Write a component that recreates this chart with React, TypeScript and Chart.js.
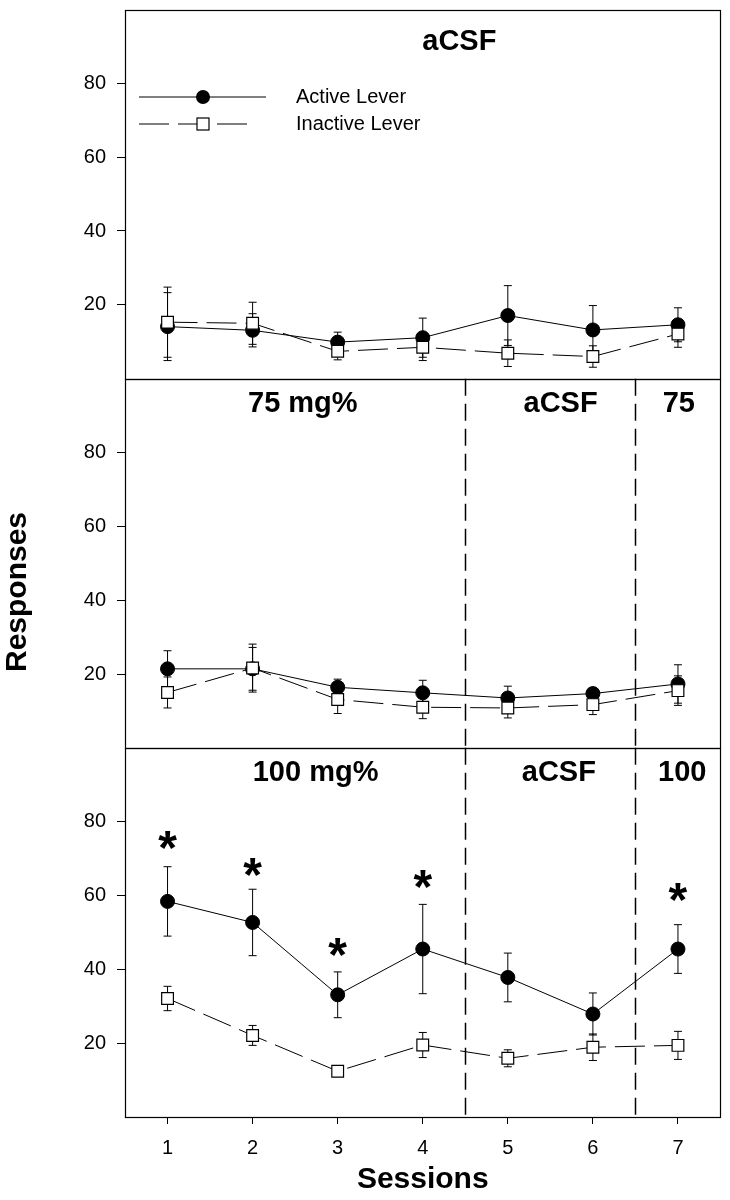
import React, { useEffect, useRef } from 'react';
import { Chart, registerables } from 'chart.js';

Chart.register(...registerables);

// ---------- data ----------
const sessions = [1, 2, 3, 4, 5, 6, 7];
const yTickValues = [20, 40, 60, 80];

// Panel 1: aCSF
const p1Active = [14.1, 13.1, 9.9, 11.1, 17.1, 13.2, 14.6];
const p1ActiveErr = [9.2, 4.5, 2.7, 5.3, 8.1, 6.6, 4.6];
const p1Inactive = [15.3, 15.0, 7.4, 8.5, 6.9, 6.0, 12.1];
const p1InactiveErr = [9.5, 5.7, 2.3, 3.6, 3.6, 2.9, 3.6];

// Panel 2: 75 mg%
const p2Active = [21.4, 21.4, 16.4, 14.9, 13.5, 14.7, 17.3];
const p2ActiveErr = [4.9, 5.8, 2.2, 3.4, 3.2, 1.5, 5.2];
const p2Inactive = [15.0, 21.6, 13.1, 11.0, 10.8, 11.7, 15.5];
const p2InactiveErr = [4.2, 6.5, 3.8, 3.1, 2.7, 2.7, 4.0];

// Panel 3: 100 mg%
const p3Active = [58.4, 52.7, 33.1, 45.5, 37.8, 27.9, 45.5];
const p3ActiveErr = [9.4, 9.0, 6.2, 12.1, 6.6, 5.7, 6.6];
const p3Inactive = [32.1, 22.1, 12.4, 19.5, 15.9, 18.9, 19.4];
const p3InactiveErr = [3.3, 2.7, 0.8, 3.4, 2.3, 3.6, 3.8];

// significance markers (panel 3)
const starSessions = [1, 2, 3, 4, 7];
const starValues = [74.9, 67.8, 46.0, 64.5, 60.9];

// phase boundaries (panels 2 and 3)
const phaseBoundaries = [4.5, 6.5];

const seriesNames = ['Active Lever', 'Inactive Lever'];
const axisTitleX = 'Sessions';
const axisTitleY = 'Responses';

// ---------- styling / layout ----------
const FONT = "'Liberation Sans', Arial, Helvetica, sans-serif";
const DASH = [30, 9];

const panelTexts: { cy: number; items: { text: string; x: number }[] }[] = [
  { cy: 42, items: [{ text: 'aCSF', x: 4.43 }] },
  { cy: 404, items: [{ text: '75 mg%', x: 2.59 }, { text: 'aCSF', x: 5.62 }, { text: '75', x: 7.01 }] },
  { cy: 773, items: [{ text: '100 mg%', x: 2.74 }, { text: 'aCSF', x: 5.6 }, { text: '100', x: 7.05 }] },
];

const toPts = (vals: number[]) => vals.map((v, i) => ({ x: sessions[i], y: v }));

const activeStyle = {
  borderColor: '#000',
  backgroundColor: '#000',
  borderWidth: 1,
  pointStyle: 'circle',
  pointRadius: 7,
  pointBackgroundColor: '#000',
  pointBorderColor: '#000',
  pointBorderWidth: 1,
  order: 2,
};
const inactiveStyle = {
  borderColor: '#000',
  backgroundColor: '#fff',
  borderWidth: 1,
  borderDash: DASH,
  pointStyle: 'rect',
  pointRadius: 8.3,
  pointBackgroundColor: '#fff',
  pointBorderColor: '#000',
  pointBorderWidth: 1.2,
  order: 1,
};

const decorPlugin = {
  id: 'decor',
  beforeDatasetsDraw(chart: any) {
    const ctx = chart.ctx;
    const ca = chart.chartArea;
    const xs = chart.scales.x;
    ctx.save();
    ctx.strokeStyle = '#000';
    ctx.lineWidth = 1.2;
    // panel frames
    ['y1', 'y2', 'y3'].forEach((id) => {
      const s = chart.scales[id];
      ctx.strokeRect(Math.round(ca.left) + 0.5, Math.round(s.top) + 0.5, Math.round(ca.right - ca.left) - 1, Math.round(s.bottom - s.top));
    });
    // phase boundary dashed lines
    ctx.setLineDash([17, 8]);
    ctx.lineWidth = 1.5;
    ['y2', 'y3'].forEach((id) => {
      const s = chart.scales[id];
      phaseBoundaries.forEach((b) => {
        const px = Math.round(xs.getPixelForValue(b)) + 0.5;
        ctx.beginPath();
        ctx.moveTo(px, s.top);
        ctx.lineTo(px, s.bottom);
        ctx.stroke();
      });
    });
    ctx.setLineDash([]);
    // error bars
    ctx.lineWidth = 1;
    chart.data.datasets.forEach((ds: any) => {
      const ys = chart.scales[ds.yAxisID];
      ds.data.forEach((pt: any, j: number) => {
        const e = ds.errors[j];
        const px = xs.getPixelForValue(pt.x);
        const yt = ys.getPixelForValue(pt.y + e);
        const yb = ys.getPixelForValue(pt.y - e);
        ctx.beginPath();
        ctx.moveTo(px, yt);
        ctx.lineTo(px, yb);
        ctx.moveTo(px - 4, yt);
        ctx.lineTo(px + 4, yt);
        ctx.moveTo(px - 4, yb);
        ctx.lineTo(px + 4, yb);
        ctx.stroke();
      });
    });
    ctx.restore();
  },
  afterDatasetsDraw(chart: any) {
    const ctx = chart.ctx;
    const ca = chart.chartArea;
    const xs = chart.scales.x;
    ctx.save();
    ctx.fillStyle = '#000';
    ctx.strokeStyle = '#000';

    // panel condition labels
    ctx.font = `bold 29px ${FONT}`;
    ctx.textAlign = 'center';
    ctx.textBaseline = 'middle';
    panelTexts.forEach((p) => {
      p.items.forEach((it) => {
        ctx.fillText(it.text, xs.getPixelForValue(it.x), p.cy);
      });
    });

    // asterisks
    const y3 = chart.scales.y3;
    ctx.font = `bold 48px ${FONT}`;
    ctx.textBaseline = 'alphabetic';
    const m = ctx.measureText('*');
    const asc = m.actualBoundingBoxAscent;
    const desc = m.actualBoundingBoxDescent;
    starSessions.forEach((s, i) => {
      const cy = y3.getPixelForValue(starValues[i]);
      const base = cy - (desc - asc) / 2;
      ctx.fillText('*', xs.getPixelForValue(s), base);
    });

    // legend
    const l = ca.left;
    const rows = [97, 124];
    ctx.lineWidth = 1;
    ctx.beginPath();
    ctx.moveTo(l + 14, rows[0]);
    ctx.lineTo(l + 141, rows[0]);
    ctx.stroke();
    ctx.beginPath();
    ctx.arc(l + 78, rows[0], 7, 0, Math.PI * 2);
    ctx.fill();
    ctx.setLineDash(DASH);
    ctx.beginPath();
    ctx.moveTo(l + 14, rows[1]);
    ctx.lineTo(l + 130, rows[1]);
    ctx.stroke();
    ctx.setLineDash([]);
    ctx.fillStyle = '#fff';
    ctx.lineWidth = 1.2;
    ctx.fillRect(l + 72, rows[1] - 6, 12, 12);
    ctx.strokeRect(l + 72, rows[1] - 6, 12, 12);
    ctx.fillStyle = '#000';
    ctx.font = `20px ${FONT}`;
    ctx.textAlign = 'left';
    ctx.textBaseline = 'middle';
    ctx.fillText(seriesNames[0], l + 171, rows[0]);
    ctx.fillText(seriesNames[1], l + 171, rows[1]);

    // axis titles
    ctx.font = `bold 30px ${FONT}`;
    ctx.textAlign = 'center';
    ctx.fillText(axisTitleX, (ca.left + ca.right) / 2, 1180);
    ctx.translate(18, 592);
    ctx.rotate(-Math.PI / 2);
    ctx.fillText(axisTitleY, 0, 0);
    ctx.restore();
  },
};

const yAxis = (weight: number) => ({
  type: 'linear',
  position: 'left',
  min: 0,
  max: 100,
  stack: 'panels',
  stackWeight: 1,
  weight,
  afterBuildTicks: (s: any) => {
    s.ticks = yTickValues.map((v) => ({ value: v }));
  },
  afterFit: (s: any) => {
    s.width = 125;
    s.paddingTop = 0;
    s.paddingBottom = 0;
  },
  border: { display: false },
  grid: { drawOnChartArea: false, drawTicks: true, tickLength: 8, color: '#000', lineWidth: 1 },
  ticks: { color: '#000', font: { family: FONT, size: 20 }, padding: 11 },
});

export default function App() {
  const ref = useRef<HTMLCanvasElement | null>(null);
  useEffect(() => {
    if (!ref.current) return;
    const mk = (vals: number[], errs: number[], axis: string, style: any, label: string) => ({
      label,
      data: toPts(vals),
      errors: errs,
      yAxisID: axis,
      xAxisID: 'x',
      showLine: true,
      fill: false,
      tension: 0,
      ...style,
    });
    const chart = new Chart(ref.current, {
      type: 'line',
      data: {
        datasets: [
          mk(p1Active, p1ActiveErr, 'y1', activeStyle, seriesNames[0]),
          mk(p1Inactive, p1InactiveErr, 'y1', inactiveStyle, seriesNames[1]),
          mk(p2Active, p2ActiveErr, 'y2', activeStyle, seriesNames[0]),
          mk(p2Inactive, p2InactiveErr, 'y2', inactiveStyle, seriesNames[1]),
          mk(p3Active, p3ActiveErr, 'y3', activeStyle, seriesNames[0]),
          mk(p3Inactive, p3InactiveErr, 'y3', inactiveStyle, seriesNames[1]),
        ] as any,
      },
      options: {
        responsive: false,
        animation: false,
        devicePixelRatio: 1,
        layout: { padding: { top: 9, right: 6, left: 0, bottom: 0 } },
        plugins: { legend: { display: false }, tooltip: { enabled: false } },
        scales: {
          x: {
            type: 'linear',
            position: 'bottom',
            min: 0.5,
            max: 7.5,
            afterBuildTicks: (s: any) => {
              s.ticks = sessions.map((v) => ({ value: v }));
            },
            afterFit: (s: any) => {
              s.height = 83;
              s.paddingLeft = 0;
              s.paddingRight = 0;
            },
            border: { display: false },
            grid: { drawOnChartArea: false, drawTicks: true, tickLength: 7, color: '#000', lineWidth: 1 },
            ticks: { color: '#000', font: { family: FONT, size: 20 }, padding: 12, maxRotation: 0, autoSkip: false },
          },
          y1: yAxis(3),
          y2: yAxis(2),
          y3: yAxis(1),
        } as any,
      },
      plugins: [decorPlugin],
    });
    return () => chart.destroy();
  }, []);
  return (
    <div style={{ position: 'absolute', left: 0, top: 0, width: 730, height: 1200, background: '#fff' }}>
      <canvas ref={ref} width={730} height={1200} style={{ display: 'block' }} />
    </div>
  );
}
